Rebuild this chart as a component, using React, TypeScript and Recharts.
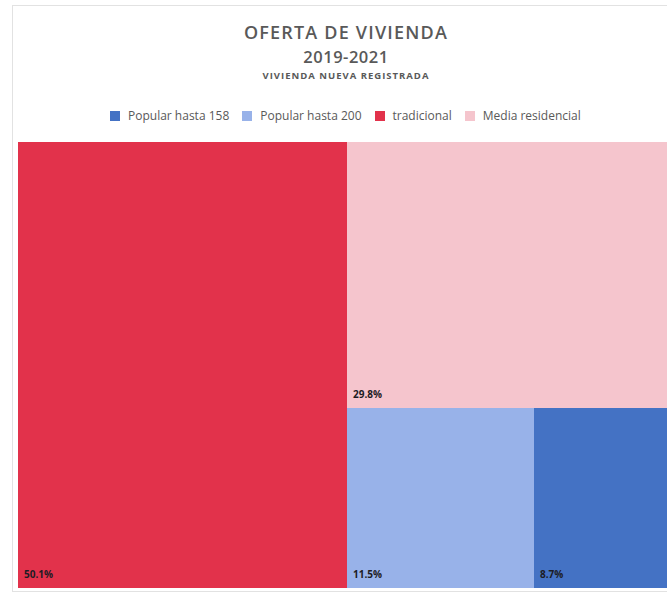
import { Treemap } from "recharts";

// Oferta de vivienda 2019-2021 — share of registered new housing by segment
const categories = ["tradicional", "Media residencial", "Popular hasta 200", "Popular hasta 158"];
const shares = [50.1, 29.8, 11.5, 8.7];
const legendOrder = ["Popular hasta 158", "Popular hasta 200", "tradicional", "Media residencial"];

const COLORS: Record<string, string> = {
  "Popular hasta 158": "#4472C4",
  "Popular hasta 200": "#98B2E9",
  tradicional: "#E2324B",
  "Media residencial": "#F5C5CD",
};

const INK = "#595959";

const treeData = categories.map((name, i) => ({ name, size: shares[i] }));

function Cell(props: any) {
  const { x, y, width, height, depth, name } = props;
  if (depth !== 1) return null;
  const i = categories.indexOf(name);
  return (
    <g>
      <rect x={x} y={y} width={width} height={height} fill={COLORS[name]} stroke="none" />
      <text
        x={x + 6}
        y={y + height - 10}
        fill="#1c1c24"
        fontSize={10}
        fontWeight={700}
        fontFamily="'Open Sans', sans-serif"
      >
        {`${shares[i].toFixed(1)}%`}
      </text>
    </g>
  );
}

export default function App() {
  return (
    <div style={{ position: "relative", width: 667, height: 592, overflow: "hidden", background: "#fff", fontFamily: "'Open Sans', sans-serif" }}>
      <style>{`body{margin:0}`}</style>
      <div style={{ position: "absolute", left: 12, top: 5, width: 670, height: 585, border: "1px solid #e2e2e2" }} />
      <div style={{ position: "absolute", left: 0, width: 692, top: 19, textAlign: "center", color: INK }}>
        <div style={{ fontSize: 18, fontWeight: 600, letterSpacing: 1.2, lineHeight: "26px" }}>OFERTA DE VIVIENDA</div>
        <div style={{ fontSize: 16.5, fontWeight: 600, letterSpacing: 0.5, lineHeight: "24px" }}>2019-2021</div>
        <div style={{ fontSize: 9.5, fontWeight: 700, letterSpacing: 1, lineHeight: "14px" }}>VIVIENDA NUEVA REGISTRADA</div>
      </div>
      <div style={{ position: "absolute", left: 110, top: 107, display: "flex", alignItems: "center", fontSize: 12, color: INK }}>
        {legendOrder.map((name) => (
          <div key={name} style={{ display: "flex", alignItems: "center", marginRight: 13 }}>
            <span style={{ display: "inline-block", width: 10, height: 10, background: COLORS[name], marginRight: 8 }} />
            <span>{name}</span>
          </div>
        ))}
      </div>
      <div style={{ position: "absolute", left: 18, top: 142 }}>
        <Treemap
          width={657}
          height={446}
          data={treeData}
          dataKey="size"
          nameKey="name"
          aspectRatio={1}
          isAnimationActive={false}
          content={<Cell />}
        />
      </div>
    </div>
  );
}
